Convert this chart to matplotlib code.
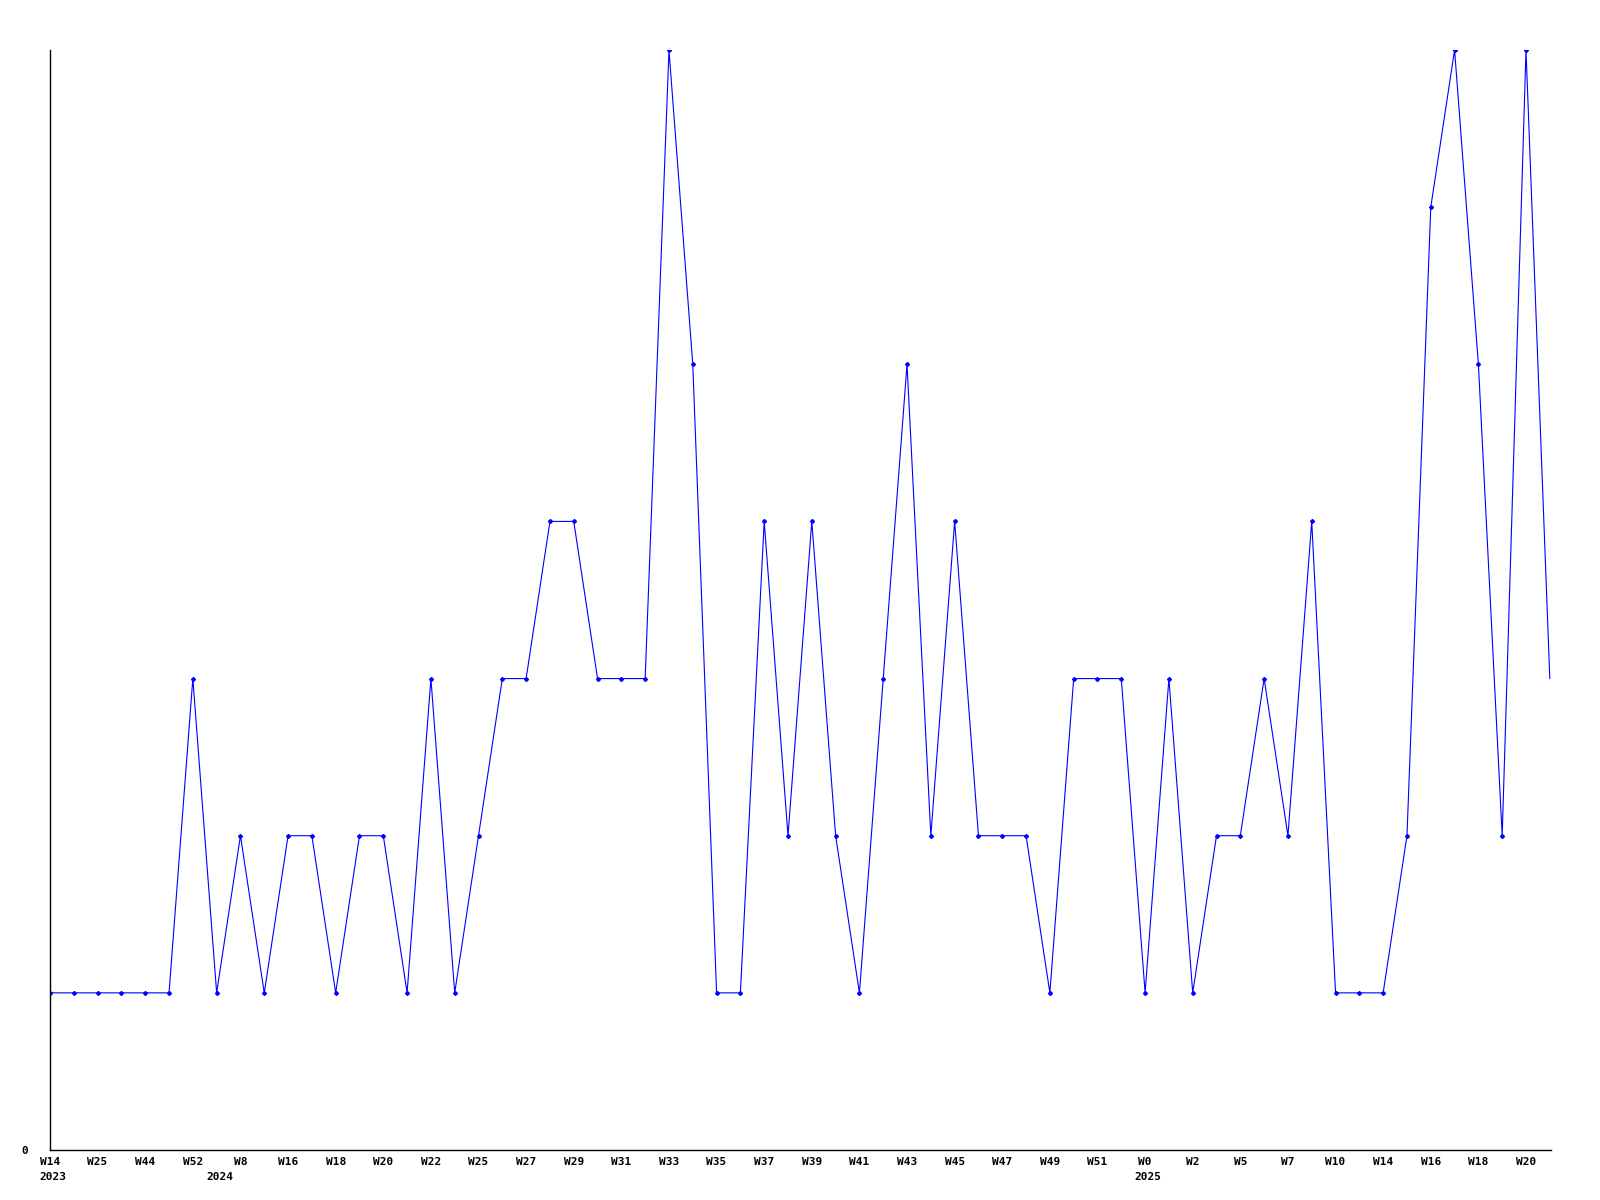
import matplotlib.pyplot as plt

VALUES = [
    1, 1, 1, 1, 1, 1, 3, 1, 2, 1,
    2, 2, 1, 2, 2, 1, 3, 1, 2, 3,
    3, 4, 4, 3, 3, 3, 7, 5, 1, 1,
    4, 2, 4, 2, 1, 3, 5, 2, 4, 2,
    2, 2, 1, 3, 3, 3, 1, 3, 1, 2,
    2, 3, 2, 4, 1, 1, 1, 2, 6, 7,
    5, 2, 7, 3,
]

# labels shown under every other point
WEEK_LABELS = [
    'W14', 'W25', 'W44', 'W52', 'W8', 'W16', 'W18', 'W20',
    'W22', 'W25', 'W27', 'W29', 'W31', 'W33', 'W35', 'W37',
    'W39', 'W41', 'W43', 'W45', 'W47', 'W49', 'W51', 'W0',
    'W2', 'W5', 'W7', 'W10', 'W14', 'W16', 'W18', 'W20',
]

YEAR_POS = [0, 7, 46]
YEAR_LABELS = ['2023', '2024', '2025']

FONT = dict(family='DejaVu Sans Mono', fontweight='bold', fontsize=8)


def main():
    fig = plt.figure(figsize=(16, 12), dpi=100)
    ax = fig.add_axes([50 / 1600, 50 / 1200, 1501 / 1600, 1100 / 1200])

    xs = list(range(len(VALUES)))
    ax.plot(xs, VALUES, color='#0000ff', linewidth=0.8,
            marker='D', markersize=2, markevery=list(range(len(VALUES) - 1)))

    ax.set_xlim(0, len(VALUES) - 1 + 0.05)
    ax.set_ylim(0, 7)

    for side in ('top', 'right'):
        ax.spines[side].set_visible(False)
    for side in ('left', 'bottom'):
        ax.spines[side].set_linewidth(1.0)

    ax.set_xticks(xs[::2])
    ax.set_xticklabels(WEEK_LABELS, **FONT)
    ax.tick_params(axis='x', length=0, pad=5)
    ax.set_yticks([0])
    ax.set_yticklabels(['0'], **FONT)
    ax.tick_params(axis='y', length=0, pad=16)

    for pos, year in zip(YEAR_POS, YEAR_LABELS):
        ax.annotate(year, xy=(pos, 0), xycoords='data',
                    xytext=(2, -16), textcoords='offset points',
                    ha='center', va='top', **FONT)

    fig.savefig('out.png', dpi=100)
    plt.close(fig)


if __name__ == '__main__':
    main()
